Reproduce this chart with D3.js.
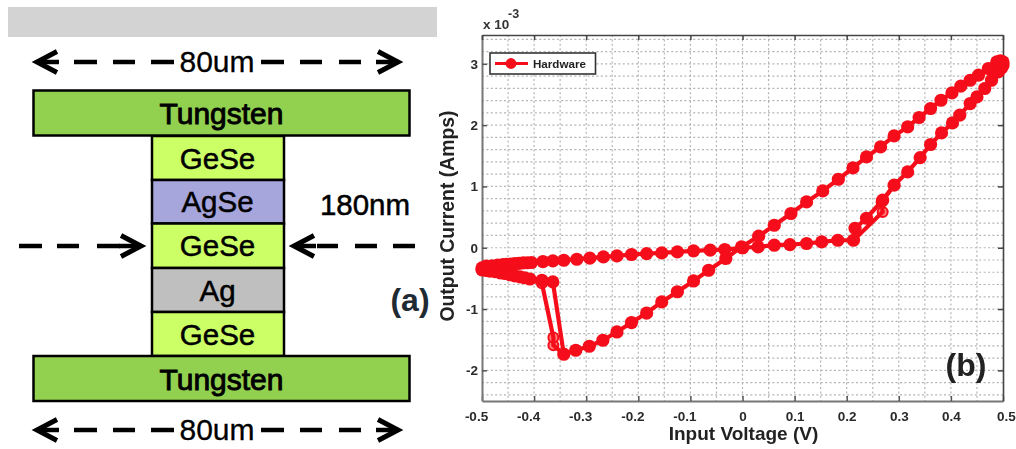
<!DOCTYPE html>
<html><head><meta charset="utf-8">
<script src="https://cdn.jsdelivr.net/npm/d3@7/dist/d3.min.js"></script>
<style>html,body{margin:0;padding:0;background:#fff}svg{display:block}text{font-family:"Liberation Sans",Arial,sans-serif}</style>
</head><body><div id="chart"></div>
<script>
// ---- panel (b) data
const mainVoltage=[0,.03,.061,.091,.123,.152,.183,.213,.216,.238,.269,.291,.317,.341,.361,.382,.403,.417,.437,.45,.465,.478,.491,.497,.5,.5,
 .495,.488,.472,.453,.437,.419,.402,.381,.361,.339,.317,.291,.265,.238,.212,.184,.154,.123,.093,.061,.031,-.002,-.032,-.065,-.094,-.125,-.155,-.184,-.213,-.241,-.268,-.294,-.32,-.343,
 -.364,-.385,-.408,-.418,-.427,-.437,-.446,-.456,-.465,-.475,-.485,-.493,-.5,-.5,
 -.492,-.481,-.47,-.46,-.453,-.445,-.437,-.429,-.421,-.413,-.405,-.383,-.364,-.343,-.318,-.293,-.267,-.241,-.213,-.184,-.155,-.125,-.094,-.062,-.034,0];
const mainCurrent=[0,.013,.041,.052,.069,.095,.122,.122,.318,.481,.775,1.02,1.237,1.471,1.684,1.873,2.036,2.162,2.352,2.46,2.597,2.732,2.868,2.93,2.977,3.03,
 3.05,3.031,2.923,2.814,2.732,2.635,2.525,2.406,2.271,2.124,1.971,1.824,1.644,1.481,1.302,1.117,.927,.747,.558,.367,.188,.013,-.176,-.367,-.542,-.718,-.884,-1.065,-1.22,-1.374,-1.509,-1.607,-1.672,-1.737,
 -.558,-.53,-.51,-.49,-.475,-.46,-.44,-.42,-.41,-.39,-.38,-.37,-.36,-.33,
 -.3,-.295,-.285,-.275,-.27,-.265,-.26,-.255,-.248,-.245,-.241,-.225,-.215,-.204,-.188,-.17,-.15,-.133,-.11,-.095,-.085,-.068,-.05,-.04,-.029,0];
const setVoltage=[.213,.269,.267,.291];
const setCurrent=[.122,.584,.747,1.02];
const resetVoltage=[-.343,-.363,-.363,-.385,-.408];
const resetCurrent=[-1.737,-1.59,-1.465,-.579,-.53];
const xTicks=[-.5,-.4,-.3,-.2,-.1,0,.1,.2,.3,.4,.5];
const xTickLabels=["-0.5","-0.4","-0.3","-0.2","-0.1","0","0.1","0.2","0.3","0.4","0.5"];
const yTicks=[-2,-1,0,1,2,3];
const yTickLabels=["-2","-1","0","1","2","3"];
const xGrid=[-.45,-.4,-.35,-.3,-.25,-.2,-.15,-.1,-.05,0,.05,.1,.15,.2,.25,.3,.35,.4,.45];
const yGrid=[-2.4,-2.2,-2,-1.8,-1.6,-1.4,-1.2,-1,-.8,-.6,-.4,-.2,0,.2,.4,.6,.8,1,1.2,1.4,1.6,1.8,2,2.2,2.4,2.6,2.8,3,3.2,3.4];
// ---- panel (a) data
const stackNames=["GeSe","AgSe","GeSe","Ag","GeSe"];
const stackColors=["#ccff66","#a6a6dd","#ccff66","#bfbfbf","#ccff66"];
const stackEdges=[136,180,223.5,268,312,356];

const W=1016,H=449;
const svg=d3.select("#chart").append("svg").attr("width",W).attr("height",H).attr("viewBox",[0,0,W,H]);
const defs=svg.append("defs");
defs.append("filter").attr("id","soft").attr("x",-.02).attr("y",-.02).attr("width",1.04).attr("height",1.04)
  .append("feGaussianBlur").attr("stdDeviation",.6);

// ---------- panel (a)
const a=svg.append("g");
a.append("rect").attr("x",8).attr("y",7).attr("width",429).attr("height",30).attr("fill","#d3d3d3");
function layerText(x,y,s,size=29.5,extra=.5){
  return a.append("text").attr("x",x).attr("y",y).attr("text-anchor","middle").attr("dominant-baseline","central")
   .attr("font-size",size).attr("fill","#000").attr("stroke","#000").attr("stroke-width",extra).text(s);
}
function plate(y0,y1){
  a.append("rect").attr("x",33.5).attr("y",y0).attr("width",376).attr("height",y1-y0).attr("fill","#92d050").attr("stroke","#000").attr("stroke-width",2.5);
  layerText(221.5,(y0+y1)/2+.5,"Tungsten",30,.9);
}
stackNames.forEach((n,i)=>{
  a.append("rect").attr("x",152).attr("y",stackEdges[i]).attr("width",132).attr("height",stackEdges[i+1]-stackEdges[i])
   .attr("fill",stackColors[i]).attr("stroke","#000").attr("stroke-width",2.5);
  layerText(217.5,(stackEdges[i]+stackEdges[i+1])/2,n);
});
plate(90.5,135.5);plate(356,401);
function dash(x0,x1,y){a.append("line").attr("x1",x0).attr("x2",x1).attr("y1",y).attr("y2",y).attr("stroke","#000").attr("stroke-width",4.5);}
function chev(tip,dir,y){
  a.append("path").attr("d",d3.line()([[tip+dir*22,y-10.5],[tip+dir*2,y],[tip+dir*22,y+10.5]]))
   .attr("fill","none").attr("stroke","#000").attr("stroke-width",5).attr("stroke-linejoin","miter");
  a.append("line").attr("x1",tip+dir*2).attr("x2",tip+dir*24).attr("y1",y).attr("y2",y).attr("stroke","#000").attr("stroke-width",4.5);
}
[62,430].forEach(y=>{
  chev(35,1,y);chev(400,-1,y);
  [[74,97],[113,135],[151,174],[261,284],[300,322],[339,361]].forEach(d=>dash(d[0],d[1],y));
  layerText(217,y-.5,"80um",30,.3);
});
[[19,42],[57,79],[97,120]].forEach(d=>dash(d[0],d[1],246));
chev(143,-1,246);
[[317,338],[355,377],[393,415]].forEach(d=>dash(d[0],d[1],246));
chev(292,1,246);
layerText(365,204,"180nm",29.5,.5);
a.append("text").attr("x",410).attr("y",300).attr("text-anchor","middle").attr("dominant-baseline","central")
 .attr("font-size",32).attr("font-weight",700).attr("fill","#1f2a33").text("(a)");

// ---------- panel (b)
const b=svg.append("g").attr("filter","url(#soft)");
const x=d3.scaleLinear().domain([-.5,.5]).range([482,1003]);
const y=d3.scaleLinear().domain([-2.5,3.47]).range([401,35]);
const grid=b.append("g").attr("stroke","#b4b4b4").attr("stroke-width",1.2).attr("stroke-dasharray","2 2.4");
grid.selectAll(".gx").data(xGrid).join("line").attr("x1",d=>x(d)).attr("x2",d=>x(d)).attr("y1",y.range()[1]).attr("y2",y.range()[0]);
grid.selectAll(".gy").data(yGrid).join("line").attr("y1",d=>y(d)).attr("y2",d=>y(d)).attr("x1",x.range()[0]).attr("x2",x.range()[1]);

const fmtX=d=>xTickLabels[xTicks.indexOf(d)], fmtY=d=>yTickLabels[yTicks.indexOf(d)];
const gB=b.append("g").attr("transform",`translate(0,${y.range()[0]})`).call(d3.axisBottom(x).tickValues(xTicks).tickFormat(fmtX).tickSizeInner(-5).tickSizeOuter(0).tickPadding(10));
const gL=b.append("g").attr("transform",`translate(${x.range()[0]},0)`).call(d3.axisLeft(y).tickValues(yTicks).tickFormat(fmtY).tickSizeInner(-5).tickSizeOuter(0).tickPadding(4));
const gT=b.append("g").attr("transform",`translate(0,${y.range()[1]})`).call(d3.axisTop(x).tickValues(xTicks).tickFormat("").tickSizeInner(-5).tickSizeOuter(0));
const gR=b.append("g").attr("transform",`translate(${x.range()[1]},0)`).call(d3.axisRight(y).tickValues(yTicks).tickFormat("").tickSizeInner(-5).tickSizeOuter(0));
[gB,gL].forEach(g=>{g.select(".domain").attr("stroke","#777").attr("stroke-width",2);g.selectAll(".tick line").attr("stroke","#555").attr("stroke-width",1.5);});
[gT,gR].forEach(g=>{g.select(".domain").attr("stroke","#444").attr("stroke-width",1.6);g.selectAll(".tick line").attr("stroke","#444").attr("stroke-width",1.5);});
[gB,gL].forEach(g=>g.selectAll("text").attr("font-family",'"Liberation Sans",Arial,sans-serif').attr("font-size",13.5).attr("font-weight",700).attr("fill","#2a2a2a"));
gB.selectAll("text").attr("dx",d=>d<0?-6:(d===.5?3:0));

const line=d3.line().x(d=>x(d[0])).y(d=>y(d[1]));
const mainPts=d3.zip(mainVoltage,mainCurrent), setPts=d3.zip(setVoltage,setCurrent), resetPts=d3.zip(resetVoltage,resetCurrent);
const curve=b.append("g");
curve.selectAll(".s").data(setPts.slice(1,3).concat(resetPts.slice(1,4))).join("circle").attr("cx",d=>x(d[0])).attr("cy",d=>y(d[1])).attr("r",5)
  .attr("fill","#ff7a7a").attr("stroke","#f5111a").attr("stroke-width",2);
[mainPts,setPts,resetPts].forEach(p=>curve.append("path").attr("d",line(p)).attr("fill","none").attr("stroke","#f5111a").attr("stroke-width",4.2));
curve.selectAll(".m").data(mainPts).join("circle").attr("cx",d=>x(d[0])).attr("cy",d=>y(d[1])).attr("r",6.6).attr("fill","#f5111a");

// legend
const lg=b.append("g");
lg.append("rect").attr("x",490).attr("y",53).attr("width",105.5).attr("height",21).attr("fill","#fff").attr("stroke","#333").attr("stroke-width",1.6);
lg.append("line").attr("x1",495).attr("x2",528).attr("y1",63.5).attr("y2",63.5).attr("stroke","#f5111a").attr("stroke-width",2.8);
lg.append("circle").attr("cx",511).attr("cy",63.5).attr("r",5.4).attr("fill","#f5111a");
lg.append("text").attr("x",533).attr("y",63.5).attr("dominant-baseline","central").attr("font-size",11.6).attr("font-weight",700).attr("fill","#222").text("Hardware");

// labels
b.append("text").attr("x",743.5).attr("y",433).attr("text-anchor","middle").attr("dominant-baseline","central").attr("font-size",19).attr("font-weight",700).attr("fill","#222").text("Input Voltage (V)");
b.append("text").attr("transform","translate(447,216) rotate(-90)").attr("text-anchor","middle").attr("dominant-baseline","central").attr("font-size",19.4).attr("font-weight",700).attr("fill","#222").text("Output Current (Amps)");
b.append("text").attr("x",483).attr("y",24).attr("dominant-baseline","central").attr("font-size",13.5).attr("font-weight",700).attr("fill","#333").text("x 10");
b.append("text").attr("x",508).attr("y",14).attr("dominant-baseline","central").attr("font-size",12.5).attr("font-weight",700).attr("fill","#333").text("-3");
svg.append("text").attr("x",966).attr("y",365).attr("text-anchor","middle").attr("dominant-baseline","central").attr("font-size",32).attr("font-weight",700).attr("fill","#222").text("(b)");
</script></body></html>
